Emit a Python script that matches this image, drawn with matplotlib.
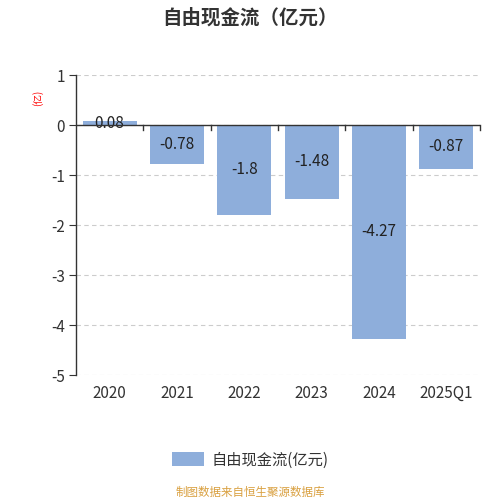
import matplotlib
matplotlib.use("Agg")
import matplotlib.pyplot as plt
import numpy as np

plt.rcParams['font.family'] = ['Noto Sans CJK SC', 'DejaVu Sans']

categories = ["2020", "2021", "2022", "2023", "2024", "2025Q1"]
values = [0.08, -0.78, -1.8, -1.48, -4.27, -0.87]
yticks = [1, 0, -1, -2, -3, -4, -5]
series_name = "自由现金流(亿元)"
title = "自由现金流（亿元）"
source = "制图数据来自恒生聚源数据库"

bar_color = "#8eaedb"
axis_color = "#333333"

fig = plt.figure(figsize=(5, 5), dpi=100)
ax = fig.add_axes([0.152, 0.25, 0.808, 0.60])

x = np.arange(len(categories))
bars = ax.bar(x, values, width=0.8, color=bar_color, zorder=2, label=series_name)

for xi, v in zip(x, values):
    ax.text(xi, v / 2, f"{v:g}", ha="center", va="center", fontsize=11, color="#222222", zorder=3)

ax.set_xlim(-0.5, len(categories) - 0.5)
ax.set_ylim(-5, 1)
ax.set_yticks(yticks)
ax.set_yticklabels([str(t) for t in yticks], fontsize=11, color=axis_color)
ax.yaxis.grid(True, linestyle=(0, (4, 3)), color="#cccccc", linewidth=0.8, zorder=0)

for s in ["top", "right", "bottom"]:
    ax.spines[s].set_visible(False)
ax.spines["left"].set_color(axis_color)
ax.spines["left"].set_linewidth(1)
ax.tick_params(axis="y", length=5, color=axis_color, pad=3)

# x axis line at zero with boundary ticks
ax.axhline(0, color=axis_color, linewidth=1, zorder=3)
for b in np.arange(0.5, len(categories), 1.0):
    ax.plot([b, b], [0, -0.1], color=axis_color, linewidth=1, zorder=3, clip_on=False)
ax.set_xticks(x)
ax.set_xticklabels(categories, fontsize=11, color=axis_color)
ax.tick_params(axis="x", length=0, pad=7)

fig.text(0.075, 0.805, "(亿)", rotation=90, color="red", fontsize=7, ha="center", va="center")
fig.text(0.5, 0.965, title, ha="center", va="center", fontsize=14, fontweight="bold", color="#333333")

leg = fig.legend(handles=[bars], labels=[series_name], loc="center", bbox_to_anchor=(0.5, 0.08),
                 frameon=False, fontsize=11, handlelength=2.1, handleheight=1.0, handletextpad=0.5)
for t in leg.get_texts():
    t.set_color("#333333")
fig.text(0.5, 0.015, source, ha="center", va="center", fontsize=8.3, color="#d9a040")

fig.savefig("out.png", dpi=100)
